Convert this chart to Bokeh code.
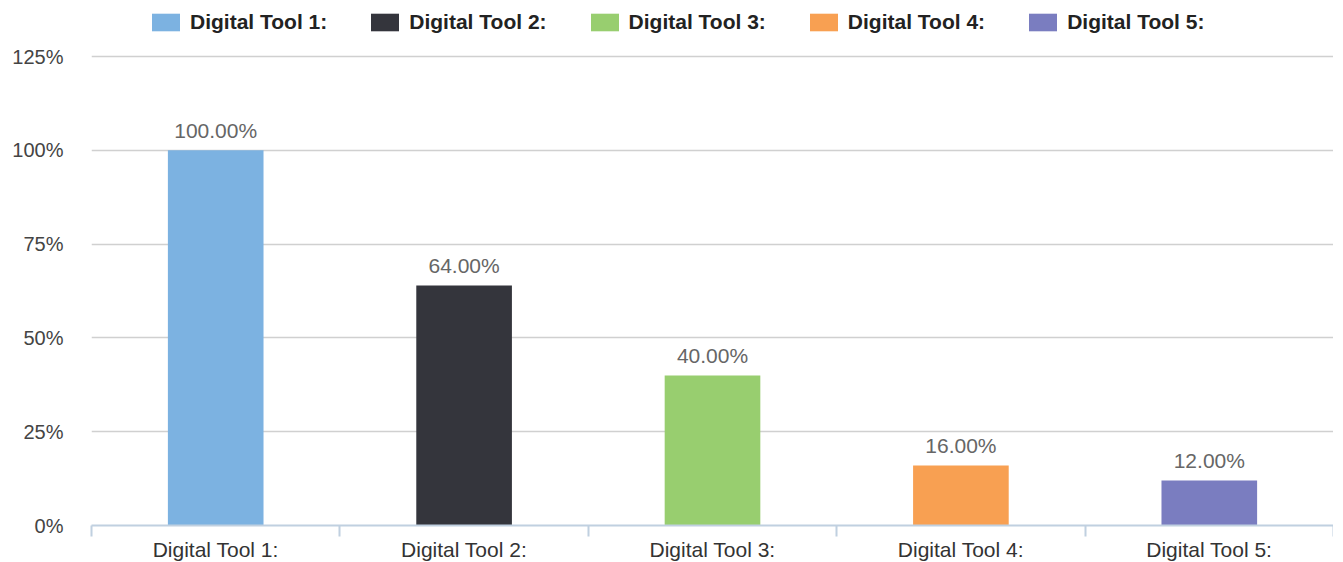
from bokeh.plotting import figure
from bokeh.models import (Range1d, FixedTicker, Legend, LegendItem, ColumnDataSource)
from bokeh.embed import file_html
from bokeh.resources import INLINE
from bokeh.core.properties import value

categories = ["Digital Tool 1:", "Digital Tool 2:", "Digital Tool 3:", "Digital Tool 4:", "Digital Tool 5:"]
values = [100.0, 64.0, 40.0, 16.0, 12.0]
colors = ["#7cb2e1", "#34353c", "#98ce6f", "#f8a052", "#7a7dc0"]
y_ticks = [0, 25, 50, 75, 100, 125]

FONT = "Liberation Sans"

# frame extends above the 125% line so the legend sits inside it
p = figure(frame_width=1242, frame_height=520, output_backend="svg", toolbar_location=None,
           x_range=Range1d(0, len(categories)), y_range=Range1d(0, 138.6),
           min_border_left=91, min_border_right=0, min_border_top=5, min_border_bottom=30)
p.outline_line_color = None
p.background_fill_color = "white"
p.border_fill_color = "white"

xs = [i + 0.5 for i in range(len(categories))]
src = ColumnDataSource(dict(x=xs, top=values, cat=categories,
                            label=["%.2f%%" % v for v in values]))

renderers = []
for i in range(len(categories)):
    r = p.vbar(x=[xs[i]], top=[values[i]], width=0.385, bottom=0, color=colors[i], line_color=None)
    renderers.append(r)

p.text(x="x", y="top", text="label", source=src, text_align="center", text_baseline="bottom",
       y_offset=-8, text_color="#666666", text_font_size="21px", text_font=value(FONT))

p.xgrid.grid_line_color = None
p.ygrid.grid_line_color = "#d0d0d0"
p.ygrid.grid_line_width = 1.5
p.yaxis.ticker = FixedTicker(ticks=y_ticks)
p.yaxis.major_label_overrides = {t: "%d%%" % t for t in y_ticks}
p.yaxis.axis_line_color = None
p.yaxis.major_tick_line_color = None
p.yaxis.minor_tick_line_color = None
p.yaxis.major_label_standoff = 22
p.yaxis.major_label_text_font = FONT
p.yaxis.major_label_text_font_size = "20px"
p.yaxis.major_label_text_color = "#444444"

p.xaxis.ticker = FixedTicker(ticks=xs, minor_ticks=list(range(len(categories) + 1)))
p.xaxis.major_label_overrides = {x: c for x, c in zip(xs, categories)}
p.xaxis.axis_line_color = "#c0d0e0"
p.xaxis.axis_line_width = 2
p.xaxis.major_tick_line_color = None
p.xaxis.major_tick_out = 0
p.xaxis.major_tick_in = 0
p.xaxis.minor_tick_line_color = "#c0d0e0"
p.xaxis.minor_tick_line_width = 2
p.xaxis.minor_tick_out = 11
p.xaxis.minor_tick_in = 0
p.xaxis.major_label_standoff = 1
p.xaxis.major_label_text_font = FONT
p.xaxis.major_label_text_font_size = "21px"
p.xaxis.major_label_text_color = "#333333"

legend = Legend(items=[LegendItem(label=c, renderers=[r]) for c, r in zip(categories, renderers)],
                orientation="horizontal", location=(57, 491))
legend.glyph_width = 35
legend.glyph_height = 22
legend.label_standoff = 7
legend.spacing = 40
legend.padding = 0
legend.margin = 0
legend.border_line_color = None
legend.background_fill_alpha = 0
legend.label_text_font = FONT
legend.label_text_font_style = "bold"
legend.label_text_font_size = "21px"
legend.label_text_color = "#222222"
legend.label_height = 22
p.add_layout(legend, "center")

open("out.html", "w").write(file_html(p, INLINE))
